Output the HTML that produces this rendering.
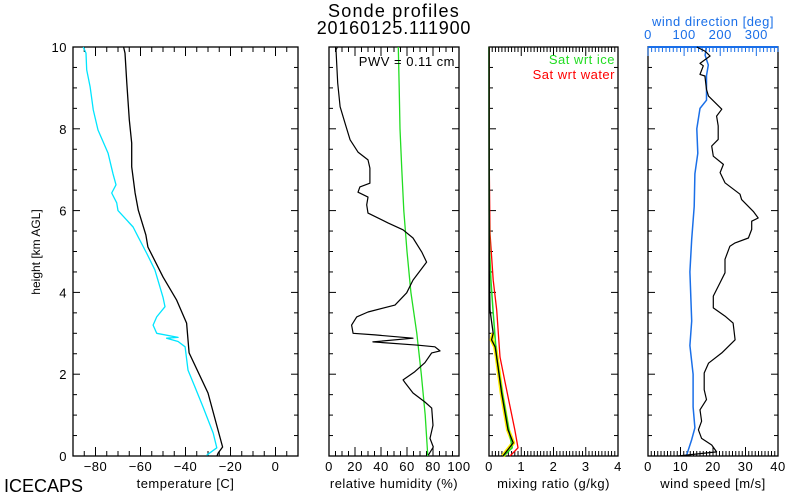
<!DOCTYPE html>
<html><head><meta charset="utf-8"><style>
html,body{margin:0;padding:0;background:#fff;}
svg{display:block;font-family:"Liberation Sans",sans-serif;}
</style></head><body>
<svg id="c" width="800" height="500" viewBox="0 0 800 500">
<rect width="800" height="500" fill="#fff"/>
<text x="394" y="17" font-size="18" letter-spacing="1.2" text-anchor="middle">Sonde profiles</text>
<text x="394" y="34" font-size="18" letter-spacing="0.8" text-anchor="middle">20160125.111900</text>
<text x="4" y="492" font-size="18">ICECAPS</text>
<text transform="translate(40,252) rotate(-90)" font-size="12" text-anchor="middle">height [km AGL]</text>
<g id="g"></g>
</svg>
<script>
// ---------- data ----------
const tempH = [0,0.07,0.22,1.54,2.52,3.25,3.81,4.38,5.11,5.4,6.01,6.43,7.07,7.65,8.22,9.12,9.85,10];
const tempC = [-26,-25.5,-23.5,-30,-38.4,-39.5,-43.9,-50,-56.7,-57.6,-61,-62.4,-63.9,-63.9,-65,-66.1,-66.9,-67.5];
const dewH = [0.02,0.2,0.56,1.2,1.69,2.1,2.67,2.8,2.88,2.9,3.0,3.2,3.4,3.65,3.88,4.55,4.95,5.35,5.6,6.0,6.19,6.43,6.63,6.9,7.4,7.97,8.46,9.03,9.44,9.85,10];
const dewC = [-30.6,-26.1,-27.7,-32.2,-35.8,-38.9,-40.2,-43.3,-48.4,-43.3,-52.8,-54.4,-52.8,-49.1,-50,-53.6,-57.2,-61,-63.3,-70,-70.6,-72.8,-70.9,-72.2,-74.4,-78.9,-81,-82.4,-83.9,-84.2,-85.4];
const rhH = [0.02,0.22,0.43,0.75,1.17,1.32,1.54,1.79,1.86,2.06,2.28,2.52,2.57,2.67,2.71,2.79,2.88,2.96,3.0,3.2,3.4,3.52,3.69,3.99,4.3,4.74,4.99,5.33,5.53,5.7,5.94,6.14,6.33,6.45,6.58,6.67,7.04,7.24,7.43,7.73,8.14,8.54,9.12,9.93,10];
const rhV = [76.4,80.2,77.7,80,79,73.8,64.6,58.5,57,66,73.8,79,85.4,81.5,68.5,33.8,64.6,35.4,18.5,17.4,21.3,30,50.8,59.8,64.6,75.1,71.3,64.6,56.9,45.4,30,29,30,22.3,23.8,31.5,31.5,30,22.3,16.2,12.3,8.5,6.7,5.4,6.5];
const rhSatH = [0,1,2,3,4,5,6,7,8,9,10];
const rhSatV = [76,74,71,67.5,63,60,57.5,56,54.6,54,53.3];
const mrH = [0,0.32,0.64,1.54,2.42,2.67,2.84,3.0,3.57,4.5,6,8,10];
const mrV = [0.43,0.75,0.59,0.39,0.24,0.19,0.08,0.13,0.03,0.01,0.005,0.003,0.002];
const iceH = [0,0.2,1.5,2.4,3.5,4.3,5,6,10];
const iceV = [0.45,0.72,0.42,0.24,0.13,0.06,0.02,0.005,0.001];
const watH = [0,0.2,0.64,1.8,2.42,3.57,4.3,5.45,7,10];
const watV = [0.65,0.9,0.8,0.5,0.34,0.24,0.13,0.03,0.01,0.005];
const wsH = [0,0.1,0.27,0.43,0.64,0.85,1.13,1.38,1.62,2.03,2.27,2.52,2.84,3.25,3.42,3.62,3.91,4.24,4.48,4.81,5.13,5.21,5.33,5.54,5.74,5.82,5.98,6.27,6.4,6.68,6.93,7.13,7.33,7.58,7.74,8.07,8.31,8.48,8.8,8.96,9.29,9.33,9.54,9.6,9.78,9.9,10];
const wsV = [9.2,21.1,19.6,16.5,15.5,16.5,16,18,17.3,17.3,18.6,22.7,26.8,26.2,23.7,20.1,20.1,22.2,23.7,23.7,25.2,26.8,30.9,31.9,31.9,33.9,32.4,28.8,28.3,23.7,22.2,23.2,20.1,19.6,21.6,21.6,21.1,22.7,18.6,18,17.5,16,17,16,19.1,17.5,15];
const wdH = [0.02,0.4,0.69,1.2,2,2.7,3.3,4.5,5.3,6.1,6.9,7.4,8.0,8.5,8.7,9.3,9.56,9.8,10];
const wdV = [107,121,130,125,125,116,121,116,121,128,130,138,135,144,162,162,167,158,162];
const tempTicks = [-80,-60,-40,-20,0];
const rhTicks = [0,20,40,60,80,100];
const mrTicks = [0,1,2,3,4];
const wsTicks = [0,10,20,30,40];
const wdTicks = [0,100,200,300];
const hTicks = [0,2,4,6,8,10];

// ---------- layout ----------
const TOP=47, BOT=456;
const yH = h => BOT - (h/10)*(BOT-TOP);
const P = {
  t:{x0:73,x1:298,min:-90,max:10},
  r:{x0:329,x1:459,min:0,max:100},
  m:{x0:489,x1:618,min:0,max:4},
  w:{x0:648,x1:778,min:0,max:40},
  d:{x0:648,x1:778,min:0,max:360}
};
const sx = (p,v) => p.x0 + (v-p.min)/(p.max-p.min)*(p.x1-p.x0);
const NS="http://www.w3.org/2000/svg";
const G=document.getElementById('g');
function mk(tag,attrs){const e=document.createElementNS(NS,tag);for(const k in attrs)e.setAttribute(k,attrs[k]);G.appendChild(e);return e;}
function line(p,hs,vs,color,w,name){
  const d=hs.map((h,i)=>(i?'L':'M')+sx(p,vs[i]).toFixed(1)+','+yH(h).toFixed(1)).join('');
  const e=mk('path',{d:d,fill:'none',stroke:color,'stroke-width':w,'stroke-linejoin':'round'});
  
  
  return e;
}
function txt(x,y,s,opt){
  const e=mk('text',Object.assign({x:x,y:y,'font-size':13,'text-anchor':'middle','letter-spacing':0.5},opt||{}));
  e.textContent=s;return e;
}
function frame(p,name,minorStep,majorStep,ticks,fmt,label,topColor){
  const r=mk('rect',{x:p.x0,y:TOP,width:p.x1-p.x0,height:BOT-TOP,fill:'none',stroke:'#000','stroke-width':1.3});
  
  
  const n=Math.round((p.max-p.min)/minorStep);
  for(let i=0;i<=n;i++){
    const v=p.min+i*minorStep, x=sx(p,v);
    const maj=Math.abs(v/majorStep-Math.round(v/majorStep))<1e-6;
    const L=maj?9:5;
    mk('line',{x1:x,y1:BOT,x2:x,y2:BOT-L,stroke:'#000','stroke-width':1});
    if(!topColor) mk('line',{x1:x,y1:TOP,x2:x,y2:TOP+L,stroke:'#000','stroke-width':1});
  }
  ticks.forEach(v=>{const t=txt(sx(p,v),471,fmt(v));
    
    });
  const t=txt((p.x0+p.x1)/2,488,label);
  
  
  for(let i=0;i<=20;i++){
    const h=i*0.5,y=yH(h),L=(i%4==0)?7:4;
    mk('line',{x1:p.x0,y1:y,x2:p.x0+L,y2:y,stroke:'#000','stroke-width':1});
    mk('line',{x1:p.x1,y1:y,x2:p.x1-L,y2:y,stroke:'#000','stroke-width':1});
  }
}
const minus=v=>v<0?'\u2212'+(-v):''+v;
frame(P.t,'temperature',5,20,tempTicks,minus,'temperature [C]');
frame(P.r,'humidity',5,20,rhTicks,v=>''+v,'relative humidity (%)');
frame(P.m,'mixing',0.1,1,mrTicks,v=>''+v,'mixing ratio (g/kg)');
frame(P.w,'wind',1,10,wsTicks,v=>''+v,'wind speed [m/s]',true);
hTicks.forEach(h=>{const t=txt(67,yH(h)+5,''+h,{'text-anchor':'end'});
  
  });
mk('line',{x1:P.d.x0,y1:TOP,x2:P.d.x1,y2:TOP,stroke:'#1a6fe8','stroke-width':2});
for(let v=0;v<=360;v+=10){const x=sx(P.d,v),L=(v%100==0)?9:5;
  mk('line',{x1:x,y1:TOP,x2:x,y2:TOP+L,stroke:'#1a6fe8','stroke-width':1});}
wdTicks.forEach(v=>{const t=txt(sx(P.d,v),39,''+v,{fill:'#1a6fe8'});
  
  });
const wt=txt(713,26,'wind direction [deg]',{fill:'#1a6fe8'});



line(P.t,dewH,dewC,'#00e5ff',1.3,'dewpoint-line');
line(P.t,tempH,tempC,'#000',1.3,'temperature-line');
line(P.r,rhSatH,rhSatV,'#22dd22',1.3,'rh-saturation-line');
line(P.r,rhH,rhV,'#000',1.2,'relative-humidity-line');
line(P.m,mrH.slice(0,8),mrV.slice(0,8),'#ffee00',4,'mixing-ratio-uncertainty');
line(P.m,watH,watV,'#ff0000',1.3,'sat-water-line');
line(P.m,iceH,iceV,'#22dd22',1.5,'sat-ice-line');
line(P.m,mrH,mrV,'#000',1.3,'mixing-ratio-line');
line(P.d,wdH,wdV,'#1a6fe8',1.5,'wind-direction-line');
line(P.w,wsH,wsV,'#000',1.2,'wind-speed-line');

const pwv=txt(455,66,'PWV = 0.11 cm',{'text-anchor':'end'});


const l1=txt(615,64,'Sat wrt ice',{'text-anchor':'end',fill:'#22dd22'});


const l2=txt(615,79,'Sat wrt water',{'text-anchor':'end',fill:'#ff0000'});


</script>
</body></html>
